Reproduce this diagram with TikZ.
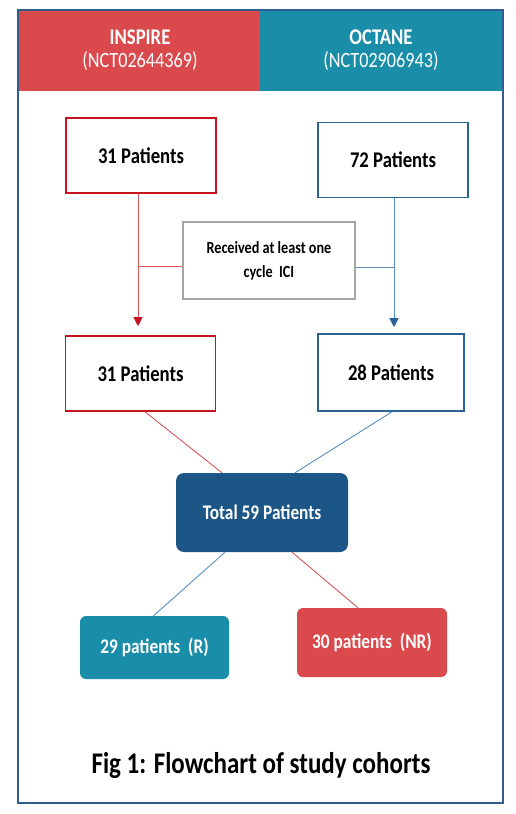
\documentclass[tikz,border=0pt]{standalone}
\usepackage{fontspec}
\setmainfont{Carlito}
\usetikzlibrary{arrows.meta}
\definecolor{hdred}{HTML}{DA494C}
\definecolor{hdteal}{HTML}{1A8DA9}
\definecolor{frame}{HTML}{2F5E8E}
\definecolor{boxred}{HTML}{C4141E}
\definecolor{boxblue}{HTML}{2A6398}
\definecolor{linered}{HTML}{D9565A}
\definecolor{lineblue}{HTML}{5A8EBF}
\definecolor{totblue}{HTML}{1C5687}
\definecolor{grayb}{HTML}{A6A6A6}
\newcommand{\vst}[1]{\scalebox{1}[1.2]{#1}}
\tikzset{
  redbox/.style={draw=boxred, line width=1.6pt, fill=white, inner sep=0pt, minimum width=150pt, minimum height=75pt, font=\fontsize{18.7}{22}\selectfont\bfseries},
  bluebox/.style={draw=boxblue, line width=1.6pt, fill=white, inner sep=0pt, minimum width=150pt, minimum height=75pt, font=\fontsize{18.7}{22}\selectfont\bfseries},
  graybox/.style={draw=grayb, line width=1.4pt, fill=white, inner sep=0pt, minimum width=172pt, minimum height=77pt},
  roundbox/.style={rounded corners=8pt, inner sep=0pt, text=white, font=\fontsize{17.3}{20}\selectfont\bfseries},
  header/.style={inner sep=0pt, minimum width=241pt, minimum height=81pt, text=white, anchor=north west},
  redline/.style={draw=linered, line width=0.9pt},
  blueline/.style={draw=lineblue, line width=0.9pt},
}
\begin{document}
\begin{tikzpicture}[x=1pt,y=-1pt]
\useasboundingbox (0,0) rectangle (516,814);
\fill[white] (0,0) rectangle (516,814);
% headers
\node[header, fill=hdred] (hinspire) at (19,10) {};
\node[header, fill=hdteal, minimum width=242pt] (hoctane) at (260,10) {};
\node[text=white, font=\fontsize{18.7}{22}\selectfont\bfseries] (tinspire) at (140,37) {\vst{INSPIRE}};
\node[text=white, font=\fontsize{18.2}{22}\selectfont] (ninspire) at (140,61) {\vst{(NCT02644369)}};
\node[text=white, font=\fontsize{18.7}{22}\selectfont\bfseries] (toctane) at (381,37) {\vst{OCTANE}};
\node[text=white, font=\fontsize{18.2}{22}\selectfont] (noctane) at (381,61) {\vst{(NCT02906943)}};
\draw[frame, line width=2pt] (18,10) rectangle (503,803);
% boxes
\node[redbox] (b31) at (141,155.5) {\vst{31 Patients}};
\node[bluebox] (b72) at (393,160) {\vst{72 Patients}};
\node[graybox] (rec) at (269,260.5) {\scalebox{1}[1.2]{\fontsize{14.2}{20}\selectfont\bfseries\begin{tabular}{@{}c@{}}Received at least one\\cycle\ \ ICI\end{tabular}}};
\node[redbox] (b31b) at (140.5,373.5) {\vst{31 Patients}};
\node[bluebox, minimum width=146pt, minimum height=77pt] (b28) at (391,372.5) {\vst{28 Patients}};
\node[roundbox, fill=totblue, minimum width=172pt, minimum height=79pt] (tot) at (262,512.5) {\vst{Total 59 Patients}};
\node[roundbox, fill=hdteal, rounded corners=6pt, minimum width=149pt, minimum height=63pt] (resp) at (154.5,647.5) {\vst{29 patients\ \ (R)}};
\node[roundbox, fill=hdred, rounded corners=6pt, minimum width=150pt, minimum height=69pt] (nonresp) at (372,642.5) {\vst{30 patients\ \ (NR)}};
\node[font=\fontsize{25}{30}\selectfont\bfseries] (cap) at (261,766) {\vst{Fig 1: Flowchart of study cohorts}};
% connectors
\draw[redline, -{Triangle[length=9pt,width=9pt,color=boxred]}, shorten >=9pt] ([xshift=-3pt]b31.south) -- ([xshift=-2.5pt]b31b.north);
\draw[blueline, -{Triangle[length=9pt,width=9pt,color=boxblue]}, shorten >=6pt] ([xshift=1pt]b72.south) -- ([xshift=3pt]b28.north);
\draw[redline] ([yshift=-6pt]rec.west) -- ([yshift=-6pt,xshift=-3pt]rec.west -| b31.south);
\draw[blueline] ([yshift=-7pt]rec.east) -- ([yshift=-7pt,xshift=1pt]rec.east -| b72.south);
\draw[redline] ([xshift=4.5pt]b31b.south) -- ([xshift=-40pt]tot.north);
\draw[blueline] ([xshift=1pt]b28.south) -- ([xshift=33pt]tot.north);
\draw[blueline] ([xshift=-37pt]tot.south) -- ([xshift=-1pt]resp.north);
\draw[redline] ([xshift=30pt]tot.south) -- ([xshift=-14pt]nonresp.north);
\end{tikzpicture}
\end{document}
